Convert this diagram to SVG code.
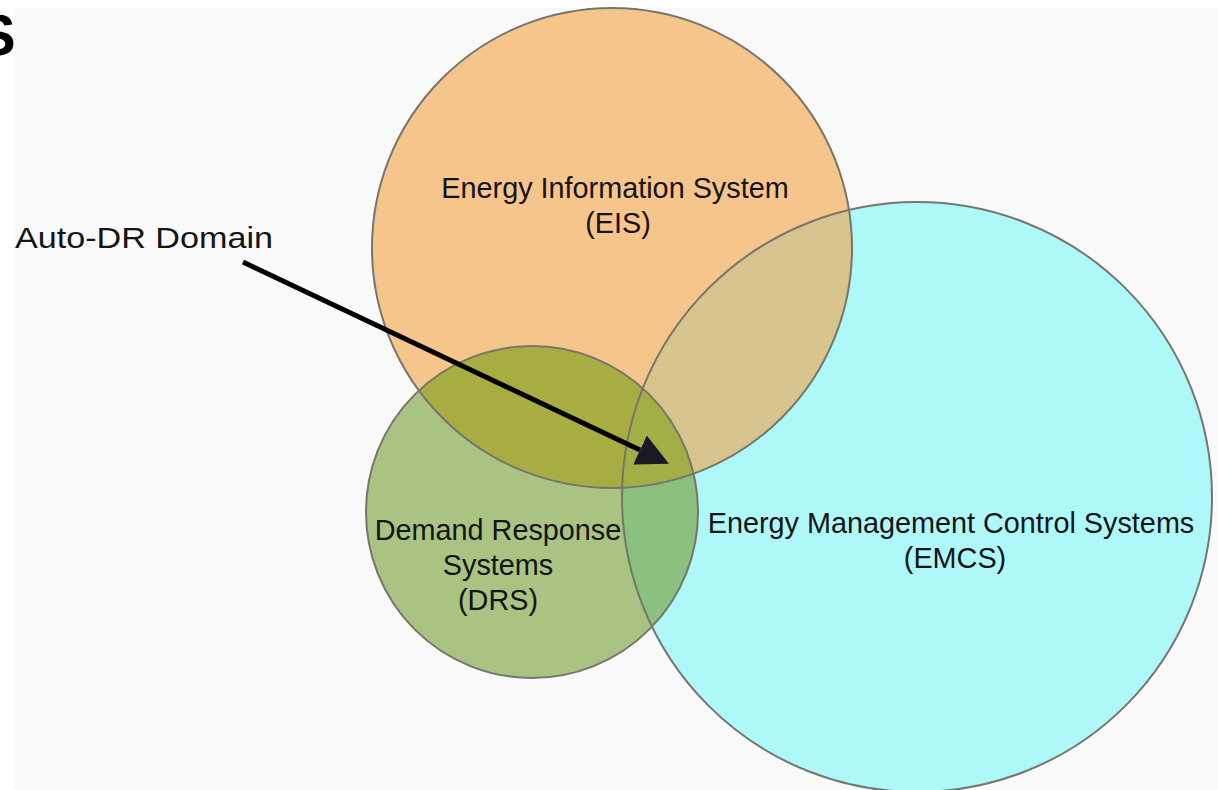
<svg xmlns="http://www.w3.org/2000/svg" width="1218" height="790" viewBox="0 0 1218 790">
  <style>
    .lbl { font-family: "Liberation Sans", Arial, sans-serif; font-size: 28.8px; fill: #141414; text-anchor: middle; }
    .edge { fill: none; stroke: #76766c; stroke-width: 2; }
    .conn { stroke: #000; stroke-width: 5; fill: none; }
  </style>
  <defs>
    <clipPath id="clipEIS"><circle cx="612" cy="248" r="240"/></clipPath>
    <clipPath id="clipEMCS"><circle cx="917" cy="497" r="295"/></clipPath>
    <marker id="head" viewBox="0 0 10 10" refX="0" refY="5" markerWidth="32" markerHeight="32" markerUnits="userSpaceOnUse" orient="auto">
      <path d="M0,0 L10,5 L0,10 z" fill="#1a1a26"/>
    </marker>
  </defs>

  <rect x="0" y="0" width="1218" height="790" fill="#ffffff"/>
  <rect x="15" y="8" width="1203" height="782" fill="#f9f9f9"/>
  <text x="-23" y="55" font-family="Liberation Sans, Arial, sans-serif" font-size="58" font-weight="bold" fill="#000">S</text>

  <g id="fills">
    <circle cx="612" cy="248" r="240" fill="#f5c58c"/>
    <circle cx="917" cy="497" r="295" fill="#aef8fa"/>
    <circle cx="532" cy="512" r="166" fill="#a9c383"/>
    <circle cx="917" cy="497" r="295" fill="#d8c48e" clip-path="url(#clipEIS)"/>
    <circle cx="532" cy="512" r="166" fill="#a8ad42" clip-path="url(#clipEIS)"/>
    <circle cx="532" cy="512" r="166" fill="#8cc07e" clip-path="url(#clipEMCS)"/>
    <g clip-path="url(#clipEIS)">
      <circle cx="532" cy="512" r="166" fill="#a3ae46" clip-path="url(#clipEMCS)"/>
    </g>
  </g>

  <g id="node-eis">
    <circle class="edge" cx="612" cy="248" r="240"/>
    <text class="lbl" x="615" y="198">Energy Information System</text>
    <text class="lbl" x="618" y="233">(EIS)</text>
  </g>

  <g id="node-emcs">
    <circle class="edge" cx="917" cy="497" r="295"/>
    <text class="lbl" x="951" y="533">Energy Management Control Systems</text>
    <text class="lbl" x="955" y="568">(EMCS)</text>
  </g>

  <g id="node-drs">
    <circle class="edge" cx="532" cy="512" r="166"/>
    <text class="lbl" x="498" y="540">Demand Response</text>
    <text class="lbl" x="498" y="575">Systems</text>
    <text class="lbl" x="498" y="610">(DRS)</text>
  </g>

  <g id="node-autodr">
    <text x="15" y="248" font-family="Liberation Sans, Arial, sans-serif" font-size="30" fill="#141414" textLength="258" lengthAdjust="spacingAndGlyphs">Auto-DR Domain</text>
  </g>

  <g id="connectors">
    <line class="conn" x1="243" y1="262" x2="640" y2="450" marker-end="url(#head)"/>
  </g>
</svg>
